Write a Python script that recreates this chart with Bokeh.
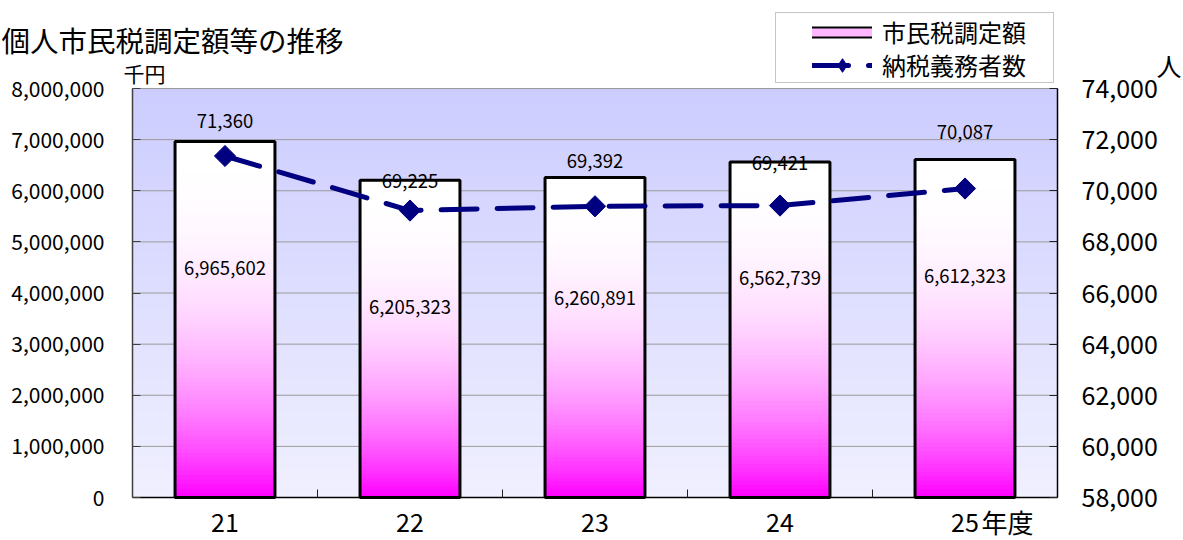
import math
from bokeh.plotting import figure
from bokeh.models import (Range1d, LinearAxis, FixedTicker, NumeralTickFormatter,
                          Legend, LegendItem, Label, ColumnDataSource, BoxAnnotation)
from bokeh.core.properties import value
from bokeh.embed import file_html
from bokeh.resources import INLINE

# ---------------- data ----------------
years = ["21", "22", "23", "24", "25"]
tax_amount = [6965602, 6205323, 6260891, 6562739, 6612323]      # 市民税調定額 (千円)
taxpayers = [71360, 69225, 69392, 69421, 70087]                 # 納税義務者数 (人)
left_ticks = [0, 1000000, 2000000, 3000000, 4000000, 5000000, 6000000, 7000000, 8000000]
right_ticks = [58000, 60000, 62000, 64000, 66000, 68000, 70000, 72000, 74000]

# label placement (pixels, downward positive)
tax_label_dy = [127, 127, 121, 116, 117]
payer_label_dy = [-35, -30, -45, -43, -57]

# ---------------- layout (pixels) ----------------
W, H = 1183, 540
AL, AR, AT, AB = 132, 1057, 88, 497          # plot area inside the canvas
FONT = "Noto Sans CJK JP"

idx = list(range(len(years)))
x_lo, x_hi = -0.5, len(years) - 0.5
ux = (AR - AL) / (x_hi - x_lo)
x_start, x_end = x_lo - AL / ux, x_hi + (W - AR) / ux
yl_lo, yl_hi = left_ticks[0], left_ticks[-1]
uy = (AB - AT) / (yl_hi - yl_lo)
y_start, y_end = yl_lo - (H - AB) / uy, yl_hi + AT / uy
yr_lo, yr_hi = right_ticks[0], right_ticks[-1]
uyr = (AB - AT) / (yr_hi - yr_lo)
yr_start, yr_end = yr_lo - (H - AB) / uyr, yr_hi + AT / uyr


def X(px):
    return x_start + px / ux


def Y(py):
    return y_end - py / uy


p = figure(width=W, height=H, output_backend="svg", toolbar_location=None, title=None,
           x_range=Range1d(x_start, x_end), y_range=Range1d(y_start, y_end), min_border=0)
p.extra_y_ranges = {"n": Range1d(yr_start, yr_end)}
p.background_fill_color = "white"
p.border_fill_color = "white"
p.outline_line_color = None
p.xgrid.visible = False
p.ygrid.visible = False

# ---------------- plot-area gradient background ----------------
NB = 100
bg_bottom, bg_color = [], []
for k in range(NB):
    f = (k + 0.5) / NB
    c = round(240 - (240 - 204) * f)
    bg_bottom.append(yl_lo + (yl_hi - yl_lo) * k / NB)
    bg_color.append("#%02x%02xff" % (c, c))
p.quad(left=x_lo, right=x_hi, bottom=bg_bottom, top=yl_hi,
       fill_color=bg_color, line_color=None, level="image")

# grid lines
p.segment(x0=x_lo, x1=x_hi, y0=left_ticks[1:], y1=left_ticks[1:],
          line_color="#9a9a9a", line_width=1, level="underlay")

# ---------------- bars (gradient white -> magenta) ----------------
BAR_W = 0.54
NS = 80
bx, bb, bt, bc = [], [], [], []
for i, v in zip(idx, tax_amount):
    for k in range(NS):
        t = 1 - (k + 0.5) / NS
        g = round(255 * (1 - t ** 2.5))
        bx.append(i)
        bb.append(v * k / NS)
        bt.append(v)
        bc.append("#ff%02xff" % g)
p.vbar(x=bx, bottom=bb, top=bt, width=BAR_W, fill_color=bc, line_color=None)
p.vbar(x=idx, top=tax_amount, width=BAR_W, fill_color=None, line_color="black", line_width=3)

# ---------------- line ----------------
src = ColumnDataSource(dict(
    x=idx, n=taxpayers, amt=tax_amount, none=[float("nan")] * len(idx),
    nlab=[f"{v:,}" for v in taxpayers], alab=[f"{v:,}" for v in tax_amount],
    ndy=payer_label_dy, ady=tax_label_dy))
line_r = p.line("x", "n", source=src, y_range_name="n", line_color="#000080",
                line_width=5, line_dash="36 20", line_cap="round")
mark_r = p.scatter("x", "n", source=src, y_range_name="n", marker="square",
                   angle=math.pi / 4, size=15, fill_color="#000080", line_color="#000080")

# ---------------- data labels ----------------
p.text("x", "amt", text="alab", source=src, y_offset="ady", text_align="center",
       text_baseline="middle", text_font=value(FONT), text_font_size="18.5px", text_color="black")
p.text("x", "n", text="nlab", source=src, y_range_name="n", y_offset="ndy", text_align="center",
       text_baseline="middle", text_font=value(FONT), text_font_size="18.5px", text_color="black")

# ---------------- axes ----------------
ya = p.yaxis[0]
ya.fixed_location = x_lo
ya.bounds = (yl_lo, yl_hi)
ya.ticker = FixedTicker(ticks=left_ticks)
ya.formatter = NumeralTickFormatter(format="0,0")
ya.major_label_text_font = FONT
ya.major_label_text_font_size = "21px"
ya.major_label_text_color = "black"
ya.major_label_standoff = 28
ya.major_tick_in = 8
ya.major_tick_out = 0
ya.minor_tick_line_color = None
ya.axis_line_color = "#404040"
ya.axis_line_width = 1.5
ya.major_tick_line_color = "#404040"

yr = LinearAxis(y_range_name="n", ticker=FixedTicker(ticks=right_ticks),
                formatter=NumeralTickFormatter(format="0,0"),
                fixed_location=x_hi, bounds=(yr_lo, yr_hi))
yr.major_label_text_font = FONT
yr.major_label_text_font_size = "25px"
yr.major_label_text_color = "black"
yr.major_label_standoff = 24
yr.major_tick_in = 8
yr.major_tick_out = 0
yr.minor_tick_line_color = None
yr.axis_line_color = "black"
yr.axis_line_width = 1.5
yr.major_tick_line_color = "#202020"
p.add_layout(yr, "right")

xa = p.xaxis[0]
xa.fixed_location = yl_lo
xa.bounds = (x_lo, x_hi)
xa.ticker = FixedTicker(ticks=idx, minor_ticks=[i + 0.5 for i in idx[:-1]])
xa.major_label_overrides = {i: y for i, y in zip(idx, years)}
xa.major_label_text_font = FONT
xa.major_label_text_font_size = "25px"
xa.major_label_text_color = "black"
xa.major_label_standoff = 15
xa.major_tick_in = 0
xa.major_tick_out = 0
xa.minor_tick_in = 8
xa.minor_tick_out = 0
xa.minor_tick_line_color = "#202020"
xa.axis_line_color = "black"
xa.axis_line_width = 1.5

# ---------------- title & unit labels ----------------
p.add_layout(Label(x=X(1), y=Y(38.5), text="個人市民税調定額等の推移", text_align="left",
                   text_baseline="middle", text_font=FONT, text_font_size="28.5px", text_color="black"))
p.add_layout(Label(x=X(144), y=Y(72), text="千円", text_align="center",
                   text_baseline="middle", text_font=FONT, text_font_size="21px", text_color="black"))
p.add_layout(Label(x=X(1156), y=Y(64), text="人", text_align="left",
                   text_baseline="middle", text_font=FONT, text_font_size="25px", text_color="black"))
p.add_layout(Label(x=X(981), y=Y(521), text="年度", text_align="left",
                   text_baseline="middle", text_font=FONT, text_font_size="26px", text_color="black"))

# ---------------- legend ----------------
p.add_layout(BoxAnnotation(left=X(775), right=X(1053), top=Y(12), bottom=Y(82),
                           fill_color="white", fill_alpha=1.0,
                           line_color="#404040", line_width=1))
sw_border = p.line("x", "none", source=src, line_color="black", line_width=12, line_cap="square")
sw_fill = p.line("x", "none", source=src, line_color="#ffb8ff", line_width=8, line_cap="square")
leg_mark = p.scatter("x", "none", source=src, y_range_name="n", marker="diamond",
                     fill_color="#000080", line_color="#000080")

legend_style = dict(orientation="vertical", glyph_width=60, glyph_height=34, label_height=34,
                    spacing=0, padding=0, label_standoff=10, label_text_font=FONT,
                    label_text_font_size="24px", label_text_color="black",
                    border_line_alpha=0, background_fill_alpha=0, margin=0)
legend_a = Legend(items=[LegendItem(label="市民税調定額", renderers=[sw_border, sw_fill])],
                  location=(812, H - 49), **legend_style)
legend_b = Legend(items=[LegendItem(label="納税義務者数", renderers=[line_r, leg_mark])],
                  location=(812, H - 82), **legend_style)
p.add_layout(legend_a, "center")
p.add_layout(legend_b, "center")

open("out.html", "w").write(file_html(p, INLINE))
